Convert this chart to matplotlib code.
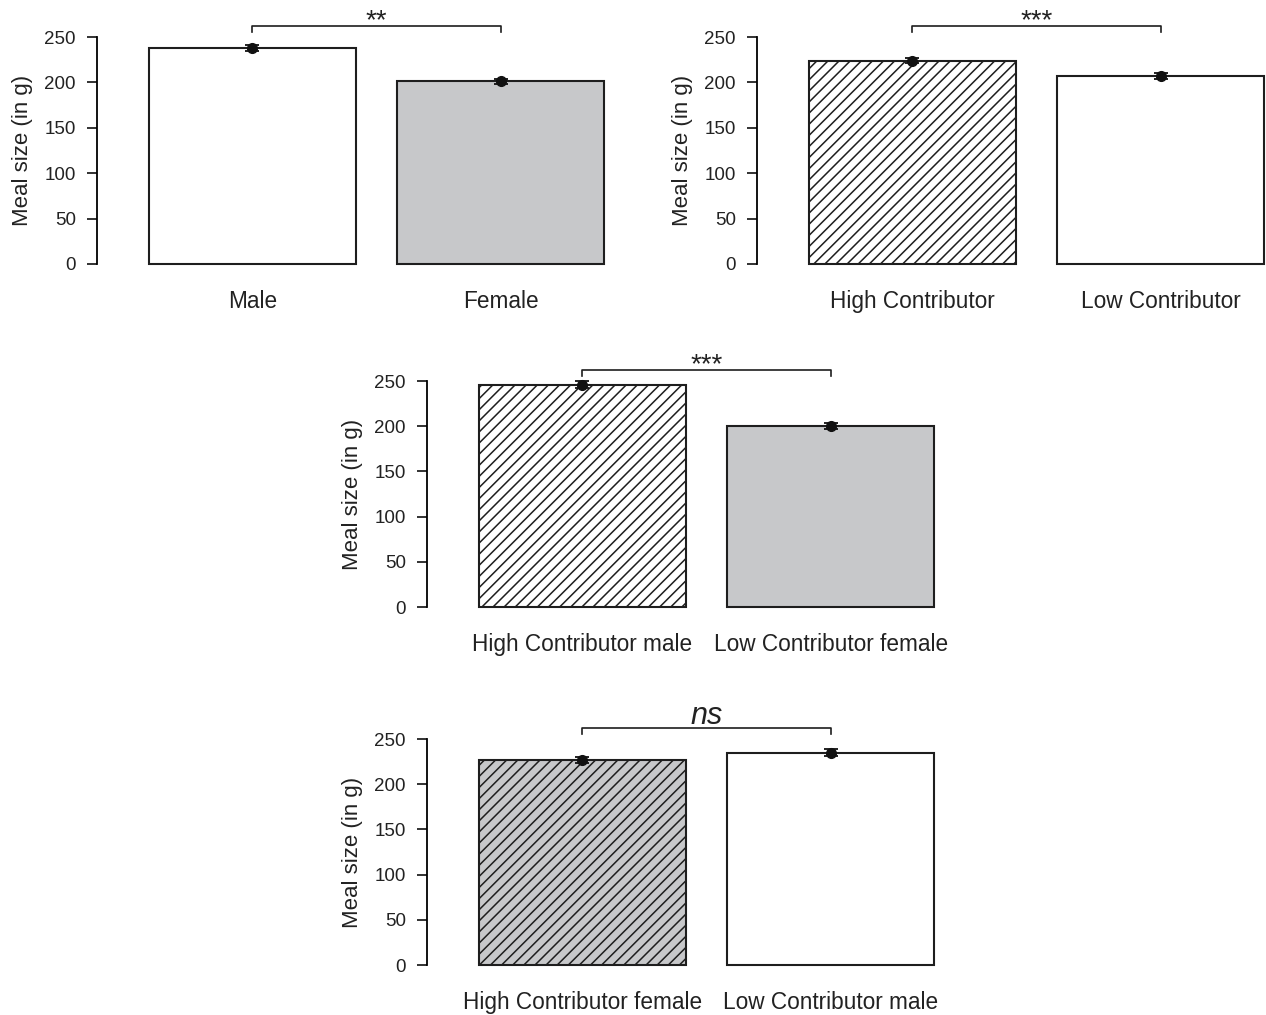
import numpy as np
import matplotlib.pyplot as plt

plt.rcParams['font.family'] = ['Liberation Sans', 'DejaVu Sans']
plt.rcParams['hatch.linewidth'] = 1.1

# Werte fuer die vier Teilgrafiken
labels1 = ['Male', 'Female']
means1 = [238, 201]
se1 = [3, 2.5]

labels2 = ['High Contributor', 'Low Contributor']
means2 = [224, 207]
se2 = [3, 3]

labels3 = ['High Contributor male', 'Low Contributor female']
means3 = [246, 200]
se3 = [3.5, 3.5]

labels4 = ['High Contributor female', 'Low Contributor male']
means4 = [227, 235]
se4 = [3, 4]

signif = ['**', '***', '***', 'ns']

W, H = 1266, 1015
fig = plt.figure(figsize=(W / 100, H / 100), dpi=100)

GRAY = '#c7c8ca'
EDGE = '#1e1e1e'
TXT = '#222222'
unit = 207  # px per bar width


def panel(left_px, zero_px, top_px, labels, means, se, faces, hatches, sig):
    width_px = 2.5 * unit
    ax = fig.add_axes([left_px / W, (H - zero_px) / H, width_px / W, (zero_px - top_px) / H])
    x = np.array([0.7, 1.9])
    for xi, m, fc, h in zip(x, means, faces, hatches):
        ax.bar(xi, m, width=1.0, color=fc, edgecolor=EDGE, linewidth=1.5, hatch=h, clip_on=False)
    ax.errorbar(x, means, yerr=se, fmt='o', color='#111111', ms=7, capsize=5,
                elinewidth=1.6, capthick=1.3, clip_on=False, zorder=5)
    ax.set_xlim(-0.05, 2.45)
    ax.set_ylim(0, 250)
    ax.set_xticks(x)
    ax.set_xticklabels(labels, fontsize=16.3, color=TXT)
    ax.tick_params(axis='x', length=0, pad=19)
    ax.set_yticks([0, 50, 100, 150, 200, 250])
    ax.tick_params(axis='y', length=7.2, width=1.3, pad=8, labelsize=13.5, colors=TXT)
    for s in ['top', 'right', 'bottom']:
        ax.spines[s].set_visible(False)
    ax.spines['left'].set_linewidth(1.3)
    ax.spines['left'].set_bounds(0, 250)
    ax.set_ylabel('Meal size (in g)', fontsize=16, color=TXT)
    ax.yaxis.set_label_coords(-64 / width_px, 0.5)
    # Signifikanzklammer
    yb = 262
    ax.plot([x[0], x[0], x[1], x[1]], [yb - 6, yb, yb, yb - 6], color=EDGE, lw=1.2, clip_on=False)
    if sig == 'ns':
        ax.text(x.mean(), yb - 3, sig, ha='center', va='bottom', fontsize=22, style='italic', color=TXT)
    else:
        ax.text(x.mean(), yb - 9, sig, ha='center', va='bottom', fontsize=20, color=TXT)
    return ax


panel(97, 264, 37, labels1, means1, se1, ['white', GRAY], [None, None], signif[0])
panel(757, 264, 37, labels2, means2, se2, ['white', 'white'], ['///', None], signif[1])
panel(427, 607, 381, labels3, means3, se3, ['white', GRAY], ['///', None], signif[2])
panel(427, 965, 739, labels4, means4, se4, [GRAY, 'white'], ['///', None], signif[3])

plt.savefig('out.png', dpi=100)
